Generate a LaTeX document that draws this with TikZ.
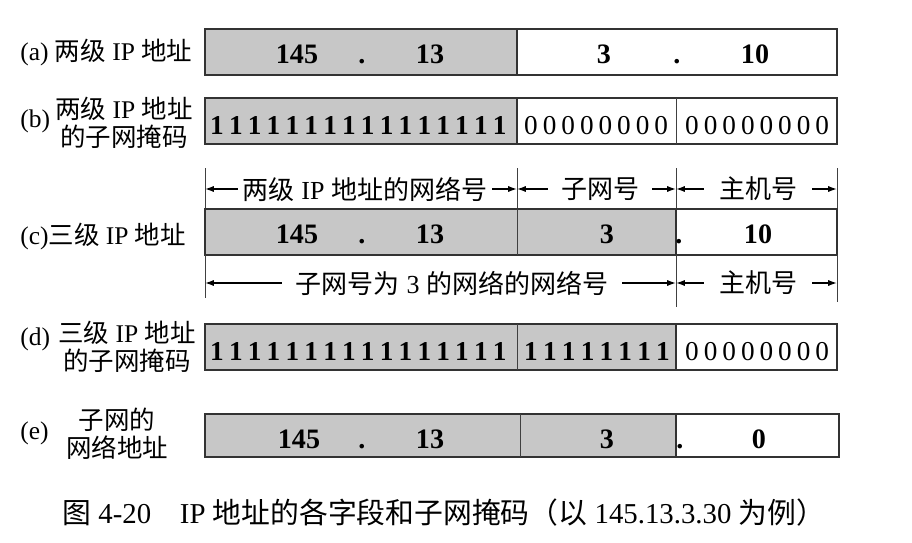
\documentclass[tikz,border=0pt]{standalone}
\usepackage{fontspec}
\setmainfont{Liberation Serif}
\newfontfamily\cjk{Noto Sans CJK SC}
\usetikzlibrary{arrows.meta}
\newcommand\zh[1]{{\cjk #1}}

\begin{document}
\begin{tikzpicture}[x=0.02cm,y=-0.02cm,
  gfield/.style={draw=black!80,line width=0.6pt,fill=black!22},
  wfield/.style={draw=black!80,line width=0.6pt,fill=white},
  num/.style={font=\fontsize{16}{18}\selectfont\bfseries,inner sep=0pt,anchor=base},
  bit/.style={font=\fontsize{15.5}{18}\selectfont,inner sep=0pt,anchor=base},
  onebit/.style={bit,font=\fontsize{15.5}{18}\selectfont\bfseries},
  lbl/.style={font=\fontsize{14.5}{16}\selectfont,inner sep=0pt},
  dim/.style={font=\fontsize{14.8}{16}\selectfont,inner ysep=0pt,inner xsep=0.26cm},
  tick/.style={black!75,line width=0.5pt},
  dimarrow/.style={-{Latex[length=5pt,width=3.5pt]},line width=0.8pt}]
\useasboundingbox (0,0) rectangle (912,542);
\coordinate (tA) at (205,0);
\coordinate (tB) at (517,0);
\coordinate (tC) at (676,0);
\coordinate (tD) at (837,0);

% (a)
\node[lbl,anchor=west] (la) at (20,52) {(a) \zh{两级} IP \zh{地址}};
\draw[gfield] (205,29) rectangle (517,75);
\draw[wfield] (517,29) rectangle (837,75);
\node[num] (a145) at (297,63) {145};
\node[num] (adot1) at (362,63) {.};
\node[num] (a13) at (430,63) {13};
\node[num] (a3) at (604,63) {3};
\node[num] (adot2) at (677,63) {.};
\node[num] (a10) at (755,63) {10};

% (b)
\node[lbl,anchor=west] (lb) at (20,121) {(b)};
\node[lbl,align=center] (lbt) at (124,123) {\zh{两级} IP \zh{地址}\\\zh{的子网掩码}};
\draw[gfield] (205,98) rectangle (517,144);
\draw[wfield] (517,98) rectangle (837,144);
\draw[tick] (676,98) -- (676,144);
\foreach \i in {0,...,15} \node[onebit] (bone\i) at ({217+18.85*\i},134) {1};
\foreach \i in {0,...,7} \node[bit] (bsub\i) at ({531+18.6*\i},134) {0};
\foreach \i in {0,...,7} \node[bit] (bhost\i) at ({692+18.6*\i},134) {0};

% field widths
\draw[tick] (205,168) -- (205,209);
\draw[tick] (517,168) -- (517,209);
\draw[tick] (676,168) -- (676,209);
\draw[tick] (837,168) -- (837,209);
\node[dim,inner xsep=0.1cm] (netold) at (365,189) {\zh{两级} IP \zh{地址的网络号}};
\draw[dimarrow] (netold.west) -- (netold.west -| tA);
\draw[dimarrow] (netold.east) -- (netold.east -| tB);
\node[dim] (subnet) at (600,189) {\zh{子网号}};
\draw[dimarrow] (subnet.west) -- (subnet.west -| tB);
\draw[dimarrow] (subnet.east) -- (subnet.east -| tC);
\node[dim,inner xsep=0.3cm] (hostc) at (758,189) {\zh{主机号}};
\draw[dimarrow] (hostc.west) -- (hostc.west -| tC);
\draw[dimarrow] (hostc.east) -- (hostc.east -| tD);

% (c)
\node[lbl,anchor=west] (lc) at (20,236) {(c)\zh{三级} IP \zh{地址}};
\draw[gfield] (205,209) rectangle (676,255);
\draw[wfield] (676,209) rectangle (837,255);
\draw[tick] (517,209) -- (517,255);
\node[num] (c145) at (297,243) {145};
\node[num] (cdot1) at (362,243) {.};
\node[num] (c13) at (430,243) {13};
\node[num] (c3) at (607,243) {3};
\node[num] (cdot2) at (679,243) {.};
\node[num] (c10) at (758,243) {10};

\draw[tick] (205,255) -- (205,298);
\draw[tick] (676,255) -- (676,307);
\draw[tick] (837,255) -- (837,302);
\node[dim,inner xsep=0.28cm] (netnew) at (452,283) {\zh{子网号为} 3 \zh{的网络的网络号}};
\draw[dimarrow] (netnew.west) -- (netnew.west -| tA);
\draw[dimarrow] (netnew.east) -- (netnew.east -| tC);
\node[dim,inner xsep=0.3cm] (hostd) at (758,283) {\zh{主机号}};
\draw[dimarrow] (hostd.west) -- (hostd.west -| tC);
\draw[dimarrow] (hostd.east) -- (hostd.east -| tD);

% (d)
\node[lbl,anchor=west] (ld) at (20,339) {(d)};
\node[lbl,align=center] (ldt) at (127,347) {\zh{三级} IP \zh{地址}\\\zh{的子网掩码}};
\draw[gfield] (205,324) rectangle (676,370);
\draw[wfield] (676,324) rectangle (837,370);
\draw[tick] (517,324) -- (517,370);
\foreach \i in {0,...,15} \node[onebit] (done\i) at ({217+18.85*\i},360) {1};
\foreach \i in {0,...,7} \node[onebit] (dsub\i) at ({531+18.85*\i},360) {1};
\foreach \i in {0,...,7} \node[bit] (dhost\i) at ({692+18.6*\i},360) {0};

% (e)
\node[lbl,anchor=west] (le) at (20,433) {(e)};
\node[lbl,align=center] (let) at (117,434) {\zh{子网的}\\\zh{网络地址}};
\draw[gfield] (205,414) rectangle (676,457);
\draw[wfield] (676,414) rectangle (839,457);
\draw[tick] (520,414) -- (520,457);
\node[num] (e145) at (299,448) {145};
\node[num] (edot1) at (362,448) {.};
\node[num] (e13) at (430,448) {13};
\node[num] (e3) at (607,448) {3};
\node[num] (edot2) at (680,448) {.};
\node[num] (e0) at (759,448) {0};

% caption
\node[font=\fontsize{16.4}{18}\selectfont,inner sep=0pt,anchor=west] (cap) at (62,513)
  {\zh{图} 4-20\quad IP \zh{地址的各字段和子网掩码（以} 145.13.3.30 \zh{为例）}};
\end{tikzpicture}
\end{document}
